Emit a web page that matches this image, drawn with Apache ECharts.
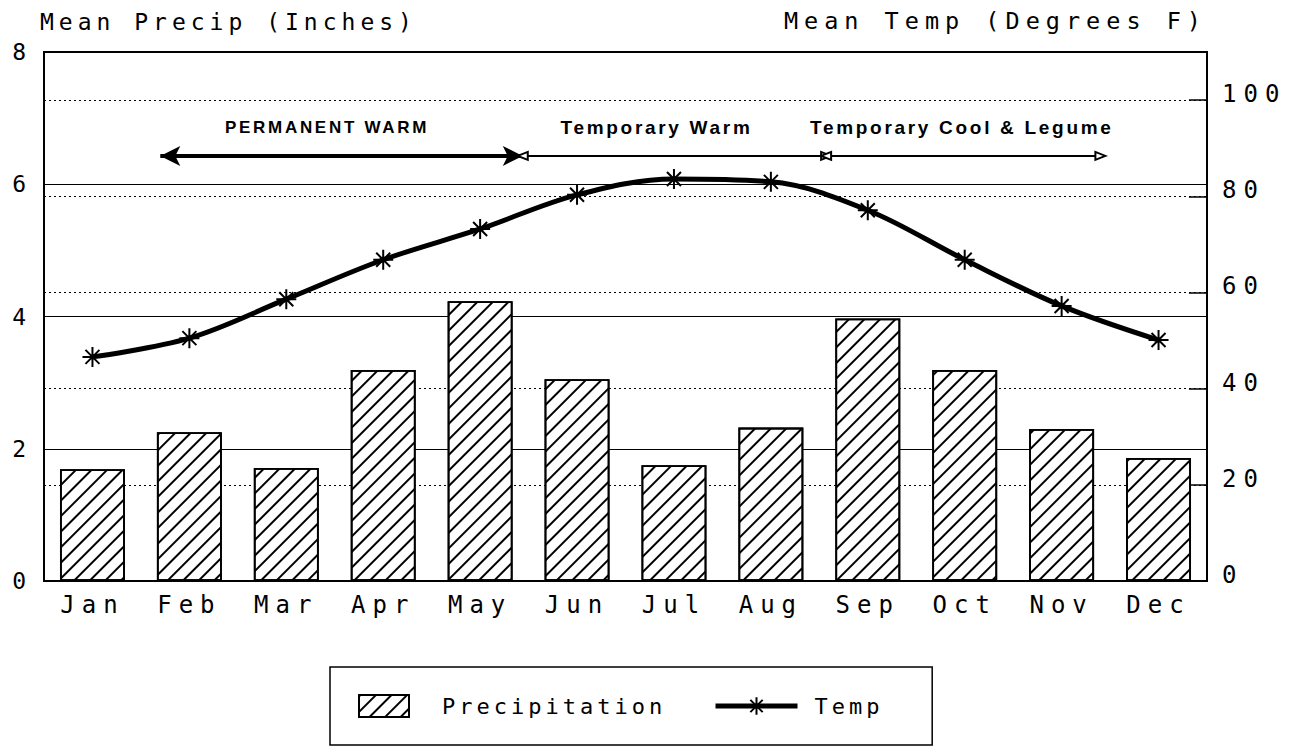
<!DOCTYPE html>
<html><head><meta charset="utf-8">
<script src="https://cdn.jsdelivr.net/npm/echarts@6/dist/echarts.min.js"></script>
<style>
html,body{margin:0;padding:0;background:#fff;}
#chart{width:1297px;height:749px;}
#chart text[style*="Mono"]{letter-spacing:5px;}
#chart text[style*="23.5px"][style*="Mono"]{letter-spacing:6px;}
#chart text[style*="24px"][style*="Mono"]{letter-spacing:7px;}
#chart text[style*="22px"][style*="Mono"]{letter-spacing:4px;}
#chart text[style*="Liberation"]{letter-spacing:2.7px;}
</style></head><body><div id="chart"></div>
<script>
// ---- data ----
const months = ['Jan','Feb','Mar','Apr','May','Jun','Jul','Aug','Sep','Oct','Nov','Dec'];
const precip = [1.69, 2.25, 1.71, 3.19, 4.23, 3.05, 1.75, 2.32, 3.97, 3.19, 2.30, 1.86];
const temp = [46.6, 50.5, 58.6, 66.8, 73.2, 80.3, 83.6, 83.0, 77.1, 66.8, 57.2, 50.1];
const precipTicks = [0, 2, 4, 6, 8];
const tempTicks = [0, 20, 40, 60, 80, 100];
// phase annotations (positions in month-index units, level in deg F)
const phaseNames = ['PERMANENT WARM', 'Temporary Warm', 'Temporary Cool & Legume'];
const phaseStart = [0.70, 4.44, 7.57];
const phaseEnd = [4.44, 7.57, 10.40];
const phaseLabelAt = [2.42, 5.82, 8.97];
const phaseArrowLevel = 88.4;
const phaseLabelLevel = 94.4;

const MONO = 'DejaVu Sans Mono';
const STAR = 'path://M10,0L10,20M0,10L20,10M3,3L17,17M17,3L3,17';

const chart = echarts.init(document.getElementById('chart'), null, {renderer: 'svg'});

const arrowLines = phaseNames.map((n, i) => {
  if (i === 0) {
    const end = {symbol: 'arrow', symbolSize: [15, 20]};
    return [
      Object.assign({coord: [phaseStart[i], phaseArrowLevel], lineStyle: {width: 4, color: '#000', type: 'solid'}}, end),
      Object.assign({coord: [phaseEnd[i], phaseArrowLevel]}, end)
    ];
  }
  const end = {symbol: 'emptyTriangle', symbolSize: [8, 10]};
  return [
    Object.assign({coord: [phaseStart[i], phaseArrowLevel], lineStyle: {width: 2, color: '#000', type: 'solid'}}, end),
    Object.assign({coord: [phaseEnd[i], phaseArrowLevel]}, end)
  ];
});

const option = {
  animation: false,
  backgroundColor: '#fff',
  grid: {left: 44, right: 90, top: 52, bottom: 168, show: true, borderColor: '#000', borderWidth: 2, backgroundColor: 'transparent'},
  legend: [
    {
      data: ['Precipitation'], left: 330, top: 667, icon: 'rect',
      itemWidth: 50, itemHeight: 22, padding: [27, 318, 27, 28],
      borderColor: '#000', borderWidth: 1.5, selectedMode: false,
      textStyle: {fontFamily: MONO, fontSize: 22, color: '#000', padding: [0, 0, 0, 28]}
    },
    {
      data: ['Temp'], left: 713, top: 695, itemWidth: 82, itemHeight: 22, padding: 0,
      selectedMode: false,
      lineStyle: {width: 5, color: '#000'},
      itemStyle: {color: '#000', borderColor: '#000', borderWidth: 2},
      textStyle: {fontFamily: MONO, fontSize: 22, color: '#000', padding: [0, 0, 0, 12]}
    }
  ],
  xAxis: [
    {
      type: 'category', data: months, boundaryGap: true,
      axisLine: {onZero: false, lineStyle: {color: '#000', width: 2}},
      axisTick: {show: true, inside: true, alignWithLabel: true, length: 9, lineStyle: {color: '#000', width: 1.5}},
      axisLabel: {color: '#000', fontFamily: MONO, fontSize: 24, margin: 12},
      splitLine: {show: false}
    },
    {type: 'value', min: -0.5, max: 11.5, show: false, axisLine: {onZero: false}}
  ],
  yAxis: [
    {
      type: 'value', min: 0, max: 8, interval: 2,
      name: 'Mean Precip (Inches)', nameLocation: 'end', nameGap: 19,
      nameTextStyle: {color: '#000', fontFamily: MONO, fontSize: 23, align: 'left', padding: [0, 0, 0, -4]},
      axisLine: {show: true, onZero: false, lineStyle: {color: '#000', width: 2}},
      axisTick: {show: false},
      axisLabel: {color: '#000', fontFamily: MONO, fontSize: 23, margin: 13,
        formatter: v => precipTicks.indexOf(v) >= 0 ? String(v) : ''},
      splitLine: {show: true, lineStyle: {color: '#000', width: 1.2, type: 'solid'}}
    },
    {
      type: 'value', min: 0, max: 110, interval: 20, position: 'right',
      name: 'Mean Temp (Degrees F)', nameLocation: 'end', nameGap: 19,
      nameTextStyle: {color: '#000', fontFamily: MONO, fontSize: 23.5, align: 'right'},
      axisLine: {show: true, onZero: false, lineStyle: {color: '#000', width: 2}},
      axisTick: {show: true, inside: true, length: 18, lineStyle: {color: '#000', width: 1.5}},
      axisLabel: {color: '#000', fontFamily: MONO, fontSize: 24, margin: 15, verticalAlign: 'bottom', lineHeight: 12,
        formatter: v => tempTicks.indexOf(v) >= 0 ? String(v) : ''},
      splitLine: {show: true, lineStyle: {color: '#000', width: 1.2, type: [2, 3]}}
    }
  ],
  series: [
    {
      type: 'bar', name: 'Precipitation', data: precip, barWidth: '67%', z: 3,
      itemStyle: {
        color: '#fff', borderColor: '#000', borderWidth: 1.8,
        decal: {symbol: 'rect', symbolSize: 1, dashArrayX: [1, 0], dashArrayY: [1.6, 9], rotation: -Math.PI / 4, color: '#000', backgroundColor: '#fff'}
      }
    },
    {
      type: 'line', name: 'Temp', yAxisIndex: 1, data: temp, smooth: 0.35, z: 5,
      symbol: STAR, symbolSize: 20,
      lineStyle: {color: '#000', width: 5},
      itemStyle: {color: '#000', borderColor: '#000', borderWidth: 2}
    },
    {
      type: 'scatter', name: 'phases', xAxisIndex: 1, yAxisIndex: 1, symbolSize: 0, silent: true,
      itemStyle: {opacity: 1},
      data: phaseNames.map((n, i) => ({name: n, value: [phaseLabelAt[i], phaseLabelLevel], label: {fontSize: i === 0 ? 17 : 19}})),
      label: {show: true, position: 'inside', formatter: '{b}', color: '#000', opacity: 1, fontFamily: 'Liberation Sans', fontWeight: 'bold'},
      markLine: {silent: true, animation: false, label: {show: false}, lineStyle: {type: 'solid', color: '#000', opacity: 1}, data: arrowLines}
    }
  ]
};
chart.setOption(option);
</script></body></html>
